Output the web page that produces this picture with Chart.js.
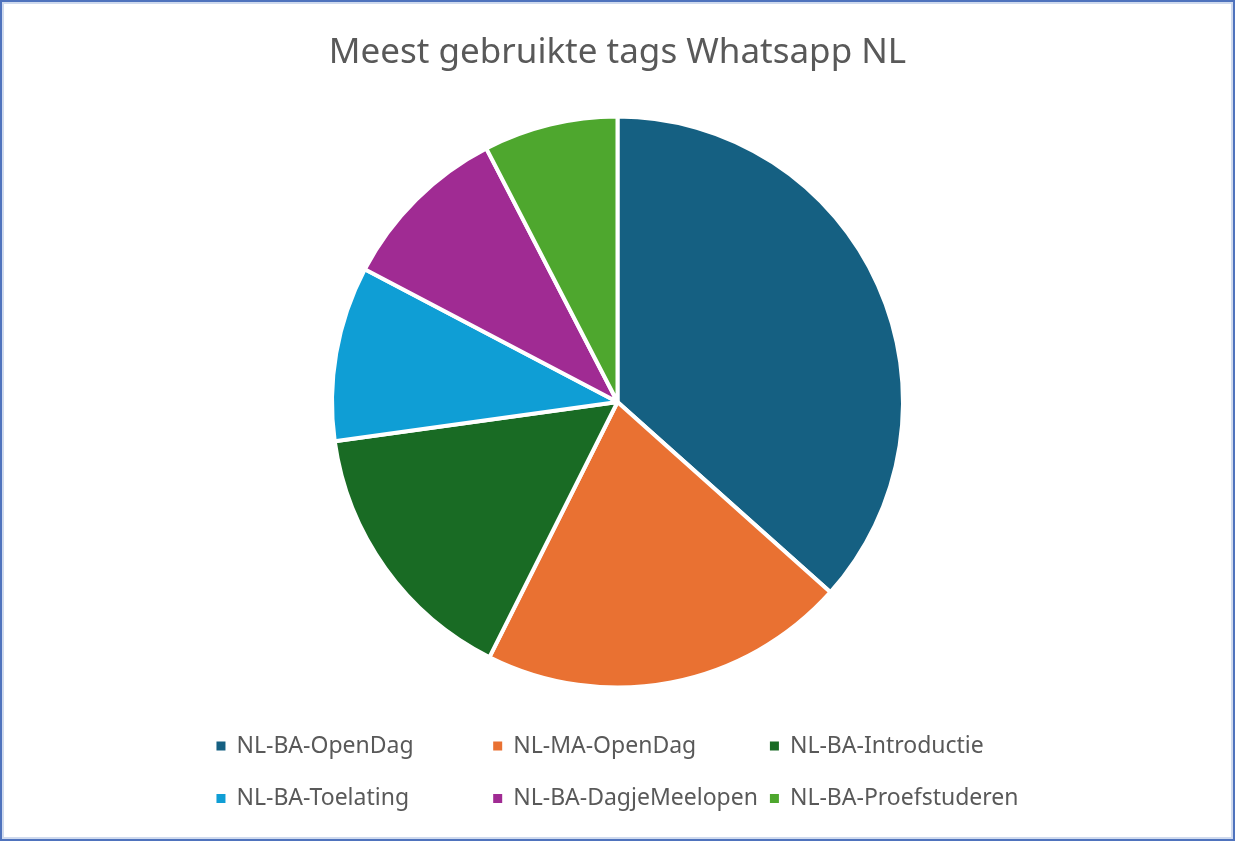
<!DOCTYPE html>
<html>
<head>
<meta charset="utf-8">
<script src="https://cdn.jsdelivr.net/npm/chart.js@4"></script>
<style>
  html, body { margin: 0; padding: 0; background: #fff; }
  #wrap { position: relative; width: 1235px; height: 841px; }
  #frame {
    position: absolute; left: 0; top: 0; width: 1235px; height: 841px;
    box-sizing: border-box; border: 2px solid #4f73bd;
    box-shadow: inset 0 0 0 2px #cfdaee; pointer-events: none;
  }
</style>
</head>
<body>
<div id="wrap">
  <canvas id="pieChart" width="1235" height="841"></canvas>
  <div id="frame"></div>
</div>
<script>
const labels = ['NL-BA-OpenDag', 'NL-MA-OpenDag', 'NL-BA-Introductie', 'NL-BA-Toelating', 'NL-BA-DagjeMeelopen', 'NL-BA-Proefstuderen'];
const values = [36.6, 20.8, 15.4, 9.9, 9.7, 7.6];
const colors = ['#156082', '#E97132', '#196B24', '#0F9ED5', '#A02B93', '#4EA72E'];

const FONT = '"Noto Sans", Roboto, sans-serif';
const TEXT_COLOR = '#595959';

// legend drawn as a grid of 3 columns, like the office chart
const gridLegend = {
  id: 'gridLegend',
  afterDraw(chart) {
    const ctx = chart.ctx;
    const cols = 3;
    const box = 9, gap = 11, colGap = 12, rowH = 52.5, firstRow = 746;
    ctx.save();
    ctx.font = '23px ' + FONT;
    const widths = labels.map(t => box + gap + ctx.measureText(t).width);
    const colW = Math.max(...widths) + colGap;
    let lastCol = 0;
    widths.forEach((w, i) => { if (i % cols === cols - 1) lastCol = Math.max(lastCol, w); });
    const total = (cols - 1) * colW + lastCol;
    const cx = (chart.chartArea.left + chart.chartArea.right) / 2;
    const left = cx - total / 2;
    ctx.textBaseline = 'middle';
    ctx.textAlign = 'left';
    labels.forEach((t, i) => {
      const x = left + (i % cols) * colW;
      const y = firstRow + Math.floor(i / cols) * rowH;
      ctx.fillStyle = colors[i];
      ctx.fillRect(x, y - box / 2, box, box);
      ctx.fillStyle = TEXT_COLOR;
      ctx.fillText(t, x + box + gap, y);
    });
    ctx.restore();
  }
};

new Chart(document.getElementById('pieChart'), {
  type: 'pie',
  data: {
    labels: labels,
    datasets: [{
      data: values,
      backgroundColor: colors,
      borderColor: '#ffffff',
      borderWidth: 4
    }]
  },
  options: {
    responsive: false,
    animation: false,
    devicePixelRatio: 1,
    layout: { padding: { top: 0, bottom: 151.5, left: 0, right: 0 } },
    plugins: {
      legend: { display: false },
      tooltip: { enabled: false },
      title: {
        display: true,
        text: 'Meest gebruikte tags Whatsapp NL',
        color: TEXT_COLOR,
        font: { family: FONT, size: 35, weight: 'normal', lineHeight: 1.2 },
        padding: { top: 32.5, bottom: 40 }
      }
    }
  },
  plugins: [gridLegend]
});
</script>
</body>
</html>
